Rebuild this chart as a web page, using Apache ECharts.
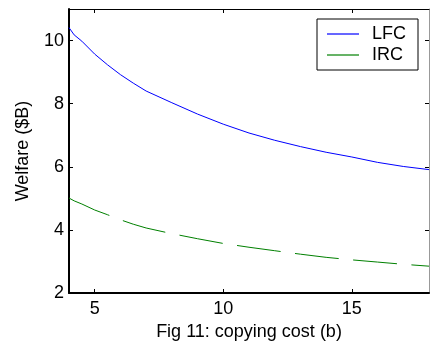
<!DOCTYPE html>
<html>
<head>
<meta charset="utf-8">
<script src="https://cdn.jsdelivr.net/npm/echarts@6/dist/echarts.min.js"></script>
<style>
html,body{margin:0;padding:0;background:#fff;}
#chart{width:430px;height:350px;}
</style>
</head>
<body>
<div id="chart"></div>
<script>
// Data
const copyingCost = [4, 4.2, 4.5, 5, 5.5, 6, 6.5, 7, 8, 9, 10, 11, 12, 13, 14, 15, 16, 17, 18];
const lfcWelfare  = [10.41, 10.18, 9.98, 9.57, 9.23, 8.92, 8.65, 8.40, 8.03, 7.67, 7.35, 7.07, 6.84, 6.64, 6.46, 6.31, 6.14, 6.01, 5.91];
const ircWelfare  = [5.01, 4.92, 4.82, 4.63, 4.48, 4.32, 4.18, 4.06, 3.88, 3.72, 3.57, 3.45, 3.34, 3.23, 3.13, 3.05, 2.98, 2.91, 2.85];
const xTickValues = [5, 10, 15];
const seriesNames = ['LFC', 'IRC'];
const xAxisTitle = 'Fig 11: copying cost (b)';
const yAxisTitle = 'Welfare ($B)';

const FONT = 'Liberation Sans, Arial, Helvetica, sans-serif';
const pairs = (ys) => copyingCost.map((x, i) => [x, ys[i]]);

const chart = echarts.init(document.getElementById('chart'), null, {renderer: 'canvas'});
chart.setOption({
  animation: false,
  backgroundColor: '#ffffff',
  textStyle: {fontFamily: FONT, color: '#000'},
  grid: {left: 69, right: 1, top: 9, bottom: 57, containLabel: false},
  legend: {
    data: seriesNames,
    orient: 'vertical',
    left: 317,
    top: 19,
    padding: [6, 12, 6, 10],
    icon: 'rect',
    itemWidth: 32,
    itemHeight: 1.2,
    itemGap: 3,
    backgroundColor: '#fff',
    borderColor: '#000',
    borderWidth: 1,
    textStyle: {fontFamily: FONT, fontSize: 18, color: '#000', padding: [0, 0, 0, 8]}
  },
  xAxis: [{
    type: 'value', min: 4, max: 18, position: 'bottom',
    name: xAxisTitle, nameLocation: 'middle', nameGap: 30,
    nameTextStyle: {fontFamily: FONT, fontSize: 18, color: '#000'},
    axisLine: {show: true, onZero: false, lineStyle: {color: '#000', width: 2}},
    axisTick: {show: true, inside: true, length: 4, customValues: xTickValues, lineStyle: {color: '#000'}},
    axisLabel: {show: true, customValues: xTickValues, margin: 7, fontFamily: FONT, fontSize: 18, color: '#000'},
    splitLine: {show: false}
  }, {
    type: 'value', min: 4, max: 18, position: 'top',
    axisLine: {show: true, onZero: false, lineStyle: {color: '#000', width: 1}},
    axisTick: {show: true, inside: true, length: 4, customValues: xTickValues, lineStyle: {color: '#000'}},
    axisLabel: {show: false},
    splitLine: {show: false}
  }],
  yAxis: [{
    type: 'value', min: 2, max: 11, interval: 2, position: 'left',
    name: yAxisTitle, nameLocation: 'middle', nameGap: 37,
    nameTextStyle: {fontFamily: FONT, fontSize: 18, color: '#000'},
    axisLine: {show: true, onZero: false, lineStyle: {color: '#000', width: 2}},
    axisTick: {show: true, inside: true, length: 4, lineStyle: {color: '#000'}},
    axisLabel: {show: true, margin: 5, fontFamily: FONT, fontSize: 18, color: '#000', showMaxLabel: false},
    splitLine: {show: false}
  }, {
    type: 'value', min: 2, max: 11, interval: 2, position: 'right',
    axisLine: {show: true, onZero: false, lineStyle: {color: '#999', width: 1}},
    axisTick: {show: true, inside: true, length: 4, lineStyle: {color: '#000'}},
    axisLabel: {show: false},
    splitLine: {show: false}
  }],
  series: [{
    name: seriesNames[0], type: 'line', xAxisIndex: 0, yAxisIndex: 0,
    data: pairs(lfcWelfare), symbol: 'none', smooth: false,
    lineStyle: {color: '#0000ff', width: 1}, itemStyle: {color: '#0000ff'}
  }, {
    name: seriesNames[1], type: 'line', xAxisIndex: 0, yAxisIndex: 0,
    data: pairs(ircWelfare), symbol: 'none', smooth: false,
    lineStyle: {color: '#008000', width: 1, type: [44, 14.5]}, itemStyle: {color: '#008000'}
  }]
});
</script>
</body>
</html>
